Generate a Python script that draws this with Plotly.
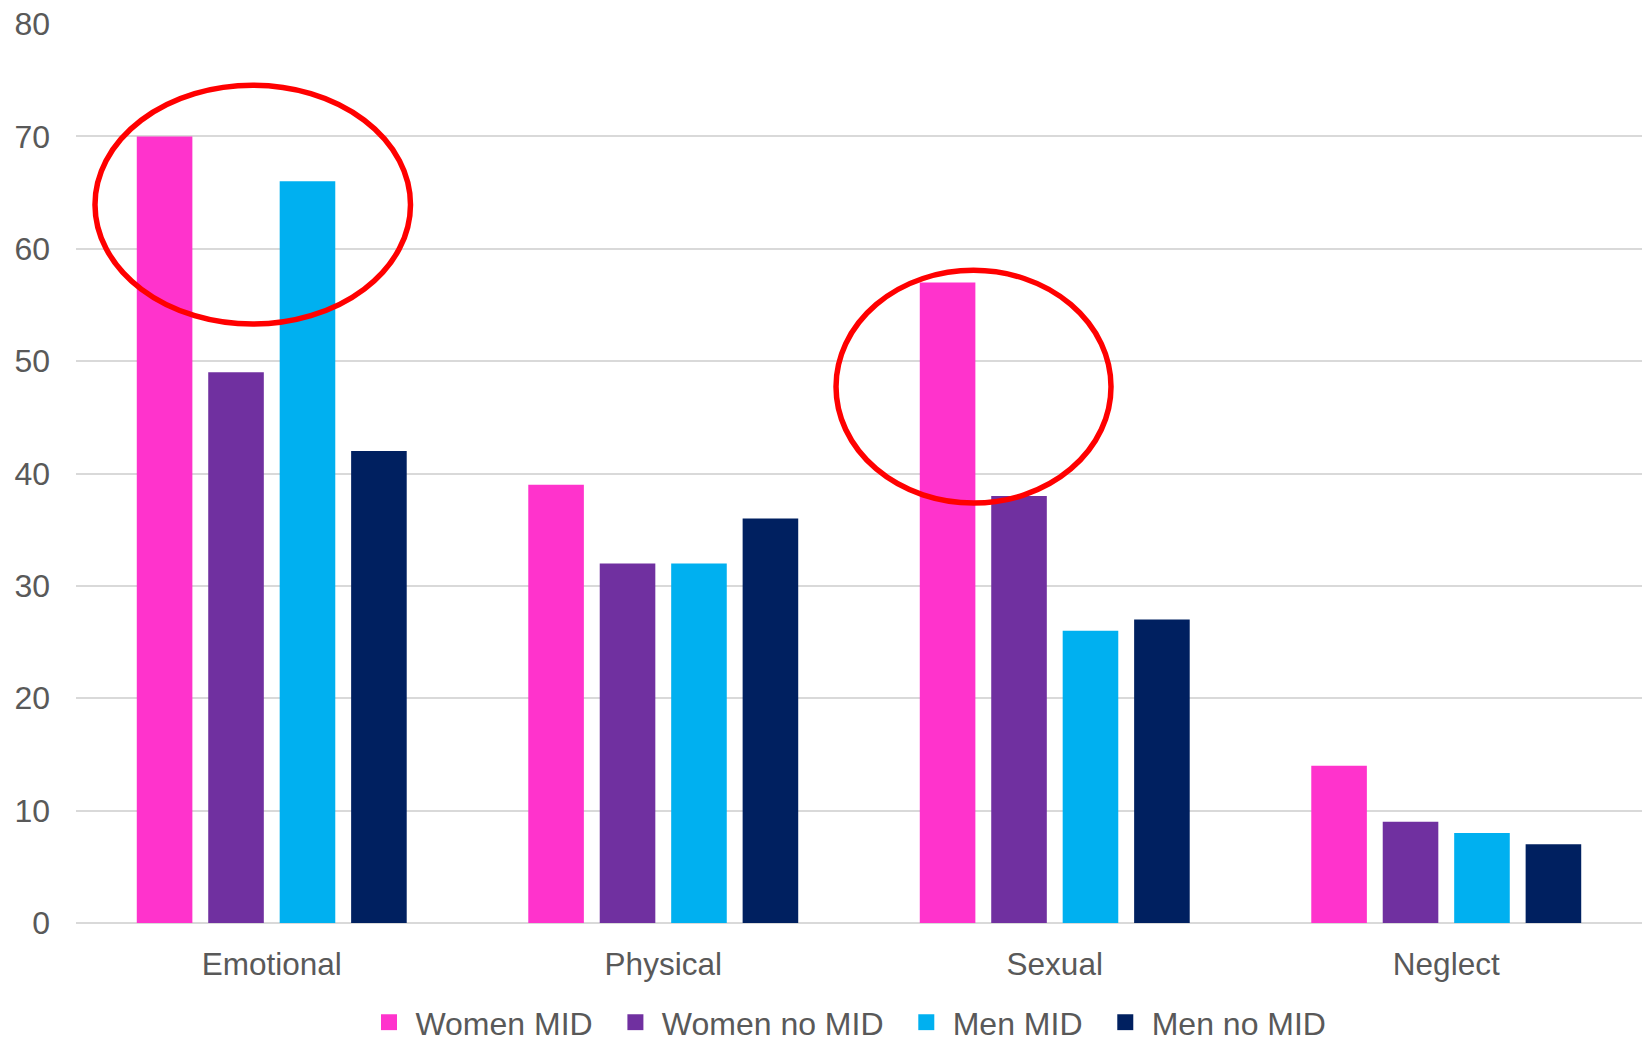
import plotly.graph_objects as go

categories = ["Emotional", "Physical", "Sexual", "Neglect"]
series_names = ["Women MID", "Women no MID", "Men MID", "Men no MID"]
women_mid = [70, 39, 57, 14]
women_no_mid = [49, 32, 38, 9]
men_mid = [66, 32, 26, 8]
men_no_mid = [42, 36, 27, 7]
colors = ["#FF33CC", "#7030A0", "#00B0F0", "#002060"]

# highlight ellipses (in category index / value units)
ellipse1 = dict(x0=-0.4515, x1=0.3544, y0=53.3, y1=74.55)
ellipse2 = dict(x0=1.4413, x1=2.1437, y0=37.37, y1=58.08)

FONT = "Liberation Sans, Arial, sans-serif"
GREY = "#595959"

fig = go.Figure()
for name, vals, col in zip(series_names, [women_mid, women_no_mid, men_mid, men_no_mid], colors):
    fig.add_trace(go.Bar(x=categories, y=vals, name=name, marker_color=col,
                         marker_line_width=0, showlegend=False))
# legend proxies with larger square symbols
for name, col in zip(series_names, colors):
    fig.add_trace(go.Scatter(x=[None], y=[None], mode="markers",
                             name="\u2009" + name + "\u00a0\u00a0",
                             marker=dict(symbol="square", size=16, color=col), showlegend=True))

for e in (ellipse1, ellipse2):
    fig.add_shape(type="circle", xref="x", yref="y", x0=e["x0"], x1=e["x1"], y0=e["y0"], y1=e["y1"],
                  line=dict(color="#FF0000", width=5.5), layer="above")

fig.update_layout(
    width=1642, height=1038,
    margin=dict(l=76, r=0, t=24, b=115, autoexpand=False),
    paper_bgcolor="white", plot_bgcolor="white",
    barmode="group", bargap=0.27, bargroupgap=0.222,
    font=dict(family=FONT, color=GREY),
    legend=dict(orientation="h", x=0.5, xanchor="center", y=-0.1105, yanchor="middle",
                font=dict(size=32, color=GREY, family=FONT), bgcolor="rgba(0,0,0,0)"),
    showlegend=True,
)
fig.update_xaxes(type="category", showgrid=False, showline=False, zeroline=False,
                 tickfont=dict(size=31.5, color=GREY, family=FONT), ticks="", ticklabelstandoff=19)
fig.update_yaxes(range=[0, 80], dtick=10, showgrid=True, gridcolor="#D9D9D9", gridwidth=2,
                 zeroline=True, zerolinecolor="#D9D9D9", zerolinewidth=2, showline=False,
                 tickfont=dict(size=32, color=GREY, family=FONT), ticks="", ticklabelstandoff=25)

fig.write_html("out.html")
